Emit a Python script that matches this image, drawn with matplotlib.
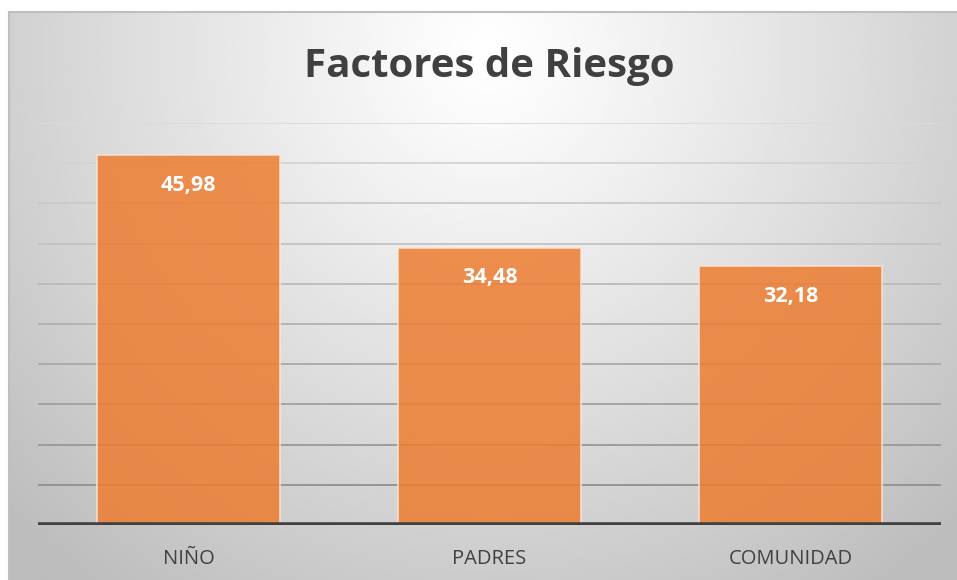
import numpy as np
import matplotlib.pyplot as plt

# datos
categorias = ["NIÑO", "PADRES", "COMUNIDAD"]
valores = [45.98, 34.48, 32.18]
etiquetas = ["45,98", "34,48", "32,18"]

W, H = 957, 580
fig = plt.figure(figsize=(W / 100, H / 100), dpi=100)
fig.patch.set_facecolor("white")

# fondo con degradado radial (estilo Excel)
bg = fig.add_axes([9 / W, 0, 1 - 9 / W, 1 - 12 / H])
bg.set_axis_off()
xx, yy = np.meshgrid(np.linspace(0, 948, 400), np.linspace(0, 568, 260))
r = np.hypot(xx - 480, yy - 40) / 620
shade = np.clip(1.0 - 0.24 * r ** 1.1, 0.74, 1.0)
bg.imshow(shade, cmap="gray", vmin=0, vmax=1, aspect="auto",
          extent=[0, 1, 0, 1], origin="upper", interpolation="bilinear")
bg.set_xlim(0, 1)
bg.set_ylim(0, 1)
bg.plot([0, 1], [1, 1], color="#bfbfbf", lw=1.5, transform=bg.transAxes, clip_on=False)
bg.plot([0, 0], [0, 1], color="#bfbfbf", lw=1.5, transform=bg.transAxes, clip_on=False)

ax = fig.add_axes([38 / W, (H - 525) / H, (941 - 38) / W, (525 - 123) / H])
ax.set_facecolor("none")
ax.set_xlim(-0.5, 2.5)
ax.set_ylim(0, 50)

# lineas de cuadricula, mas claras arriba
niveles = np.arange(5, 51, 5)
for v in niveles:
    t = v / 50
    c = 0.53 + 0.33 * t
    ax.axhline(v, color=(c, c, c), lw=1.3, zorder=1)

x = np.arange(len(categorias))
ax.bar(x, valores, width=0.605, color="#ED7D31", alpha=0.85,
       edgecolor="#f8e6d8", linewidth=1.2, zorder=2)

for xi, v, lab in zip(x, valores, etiquetas):
    ax.text(xi, v - 2.4, lab, ha="center", va="top", color="white",
            fontsize=15.5, fontweight="bold", family="Open Sans", zorder=3)

ax.axhline(0, color="#404040", lw=4, zorder=4)

for s in ax.spines.values():
    s.set_visible(False)
ax.set_yticks([])
ax.set_xticks(x)
ax.set_xticklabels(categorias, fontsize=14.5, color="#404040", family="Open Sans")
ax.tick_params(axis="x", length=0, pad=17)

fig.text(489 / W, 1 - 66 / H, "Factores de Riesgo", ha="center", va="center",
         fontsize=29, fontweight="bold", color="#404040", family="Open Sans")

fig.savefig("out.png", dpi=100)
